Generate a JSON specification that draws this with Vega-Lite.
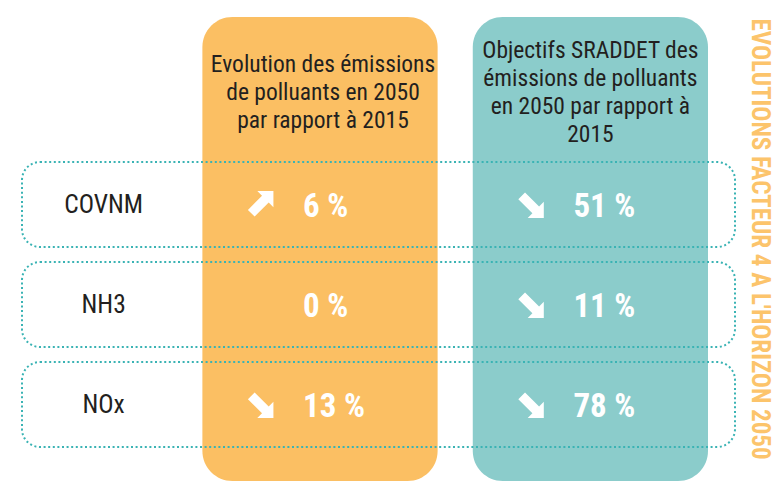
{
  "$schema": "https://vega.github.io/schema/vega-lite/v6.json",
  "width": 713,
  "height": 464,
  "autosize": {"type": "none"},
  "padding": {"left": 22, "top": 17, "right": 43, "bottom": 15},
  "background": "white",
  "title": {
    "text": "EVOLUTIONS FACTEUR 4 A L'HORIZON 2050",
    "orient": "right",
    "anchor": "middle",
    "offset": 11,
    "dx": -10,
    "font": "Liberation Sans Narrow, Roboto Condensed, DejaVu Sans Condensed, sans-serif",
    "fontSize": 25,
    "fontWeight": "bold",
    "color": "#FCC46B"
  },
  "config": {"view": {"stroke": null}},
  "datasets": {
    "colonnes": [
      {"indicateur": "Evolution", "titre": "Evolution des émissions\nde polluants en 2050\npar rapport à 2015"},
      {"indicateur": "Objectifs", "titre": "Objectifs SRADDET des\némissions de polluants\nen 2050 par rapport à\n2015"}
    ],
    "emissions": [
      {"polluant": "COVNM", "indicateur": "Evolution", "valeur": 6},
      {"polluant": "NH3", "indicateur": "Evolution", "valeur": 0},
      {"polluant": "NOx", "indicateur": "Evolution", "valeur": -13},
      {"polluant": "COVNM", "indicateur": "Objectifs", "valeur": -51},
      {"polluant": "NH3", "indicateur": "Objectifs", "valeur": -11},
      {"polluant": "NOx", "indicateur": "Objectifs", "valeur": -78}
    ]
  },
  "layer": [
    {
      "data": {"name": "colonnes"},
      "mark": {"type": "rect", "cornerRadius": 30},
      "encoding": {
        "x": {"field": "indicateur", "type": "nominal", "axis": null,
              "scale": {"domain": ["Polluant", "Evolution", "Objectifs"], "range": [-90, 686], "paddingInner": 0.13, "paddingOuter": 0}},
        "color": {"field": "indicateur", "type": "nominal", "legend": null,
                  "scale": {"domain": ["Evolution", "Objectifs"], "range": ["#FBBF63", "#8BCCCB"]}}
      }
    },
    {
      "data": {"name": "colonnes"},
      "transform": [{"filter": "datum.indicateur == 'Evolution'"}],
      "mark": {"type": "text", "lineBreak": "\n", "lineHeight": 28, "fontSize": 23.5, "color": "#231F20", "baseline": "middle", "align": "center", "dx": 3, "dy": -40,
               "font": "Liberation Sans Narrow, Roboto Condensed, DejaVu Sans Condensed, sans-serif"},
      "encoding": {
        "x": {"field": "indicateur", "type": "nominal", "axis": null},
        "y": {"datum": "En-tête", "type": "nominal", "axis": null,
              "scale": {"domain": ["En-tête", "COVNM", "NH3", "NOx"], "paddingInner": 0.15, "paddingOuter": 0.395, "align": 0.57}},
        "text": {"field": "titre"}
      }
    },
    {
      "data": {"name": "colonnes"},
      "transform": [{"filter": "datum.indicateur == 'Objectifs'"}],
      "mark": {"type": "text", "lineBreak": "\n", "lineHeight": 28, "fontSize": 23.5, "color": "#231F20", "baseline": "middle", "align": "center", "dy": -54,
               "font": "Liberation Sans Narrow, Roboto Condensed, DejaVu Sans Condensed, sans-serif"},
      "encoding": {
        "x": {"field": "indicateur", "type": "nominal", "axis": null},
        "y": {"datum": "En-tête", "type": "nominal", "axis": null},
        "text": {"field": "titre"}
      }
    },
    {
      "data": {"name": "emissions"},
      "transform": [{"filter": "datum.indicateur == 'Evolution'"}],
      "mark": {"type": "rect", "cornerRadius": 18, "fill": "transparent", "stroke": "#3AB3B4", "strokeWidth": 2, "strokeDash": [2, 2.6]},
      "encoding": {
        "y": {"field": "polluant", "type": "nominal", "axis": null}
      }
    },
    {
      "data": {"name": "emissions"},
      "transform": [{"filter": "datum.indicateur == 'Evolution'"}],
      "mark": {"type": "text", "fontSize": 25.5, "color": "#231F20", "baseline": "middle", "align": "center", "dx": 54,
               "font": "Liberation Sans Narrow, Roboto Condensed, DejaVu Sans Condensed, sans-serif"},
      "encoding": {
        "x": {"datum": "Polluant", "type": "nominal", "axis": null},
        "y": {"field": "polluant", "type": "nominal", "axis": null},
        "text": {"field": "polluant"}
      }
    },
    {
      "data": {"name": "emissions"},
      "transform": [
        {"filter": "datum.valeur != 0"},
        {"calculate": "datum.valeur > 0 ? 'hausse' : 'baisse'", "as": "sens"}
      ],
      "mark": {"type": "point", "filled": true, "opacity": 1, "color": "white", "size": 720, "xOffset": -60, "strokeWidth": 0},
      "encoding": {
        "x": {"field": "indicateur", "type": "nominal", "axis": null},
        "y": {"field": "polluant", "type": "nominal", "axis": null},
        "shape": {"field": "sens", "type": "nominal", "legend": null,
                  "scale": {"domain": ["hausse", "baisse"],
                            "range": ["M1,-1L-0.2,-1L0.15,-0.65L-0.9,0.4L-0.4,0.9L0.65,-0.15L1,0.2Z",
                                      "M1,1L-0.2,1L0.15,0.65L-0.9,-0.4L-0.4,-0.9L0.65,0.15L1,-0.2Z"]}}
      }
    },
    {
      "data": {"name": "emissions"},
      "transform": [{"calculate": "abs(datum.valeur) + ' %'", "as": "etiquette"}],
      "mark": {"type": "text", "fontSize": 33, "fontWeight": "bold", "color": "white", "baseline": "middle", "align": "left", "dx": -17, "dy": 2,
               "font": "Liberation Sans Narrow, Roboto Condensed, DejaVu Sans Condensed, sans-serif"},
      "encoding": {
        "x": {"field": "indicateur", "type": "nominal", "axis": null},
        "y": {"field": "polluant", "type": "nominal", "axis": null},
        "text": {"field": "etiquette"}
      }
    }
  ]
}
